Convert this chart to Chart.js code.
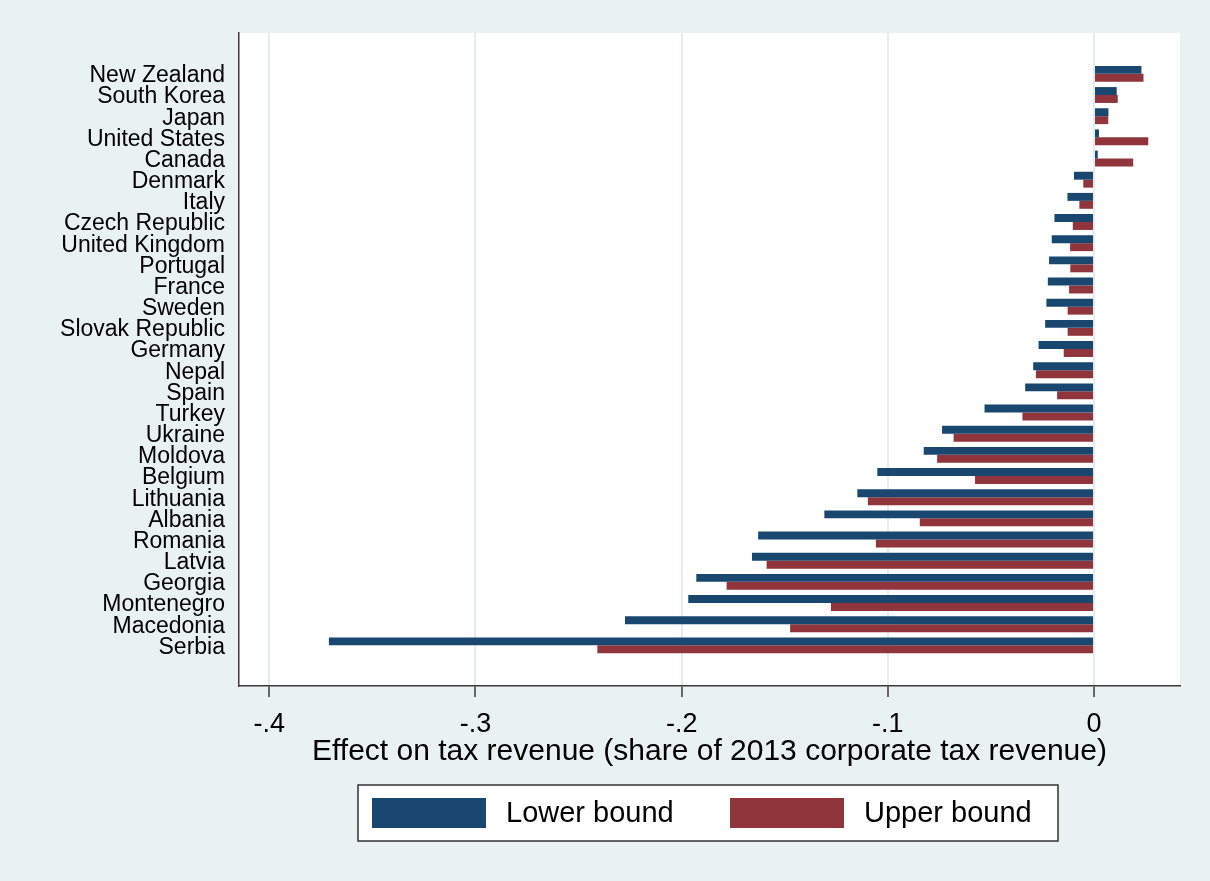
<!DOCTYPE html>
<html>
<head>
<meta charset="utf-8">
<script src="https://cdn.jsdelivr.net/npm/chart.js@4.4.1/dist/chart.umd.min.js"></script>
<style>
  html, body { margin: 0; padding: 0; background: #E9F1F3; }
  #wrap { width: 1210px; height: 881px; }
</style>
</head>
<body>
<div id="wrap"><canvas id="chart" width="1210" height="881"></canvas></div>
<script>
const countries = ['New Zealand', 'South Korea', 'Japan', 'United States', 'Canada', 'Denmark', 'Italy',
  'Czech Republic', 'United Kingdom', 'Portugal', 'France', 'Sweden', 'Slovak Republic', 'Germany',
  'Nepal', 'Spain', 'Turkey', 'Ukraine', 'Moldova', 'Belgium', 'Lithuania', 'Albania', 'Romania',
  'Latvia', 'Georgia', 'Montenegro', 'Macedonia', 'Serbia'];

const lowerBound = [0.023, 0.011, 0.007, 0.0024, 0.0018, -0.0097, -0.0129, -0.0192, -0.0205, -0.0218,
  -0.0224, -0.0231, -0.0237, -0.0269, -0.0295, -0.0334, -0.0531, -0.0737, -0.0826, -0.1051,
  -0.1148, -0.1308, -0.1629, -0.1659, -0.1929, -0.1968, -0.2275, -0.3711];

const upperBound = [0.024, 0.0115, 0.0069, 0.0263, 0.019, -0.0052, -0.0071, -0.0103, -0.0116, -0.0115,
  -0.0121, -0.0128, -0.0128, -0.0147, -0.0282, -0.0179, -0.0347, -0.0681, -0.0761, -0.0577,
  -0.1097, -0.0845, -0.1058, -0.1588, -0.1782, -0.1276, -0.1474, -0.2409];

const xTicks = [-0.4, -0.3, -0.2, -0.1, 0];
const xTickLabels = ['-.4', '-.3', '-.2', '-.1', '0'];

const NAVY = '#1A476F';
const MAROON = '#90353B';
const FONT = "'Liberation Sans', Arial, sans-serif";

// white plot region on the bluish-gray page
const plotBg = {
  id: 'plotBg',
  beforeDraw(chart) {
    const { ctx, chartArea: a } = chart;
    ctx.save();
    ctx.fillStyle = '#E9F1F3';
    ctx.fillRect(0, 0, chart.width, chart.height);
    ctx.fillStyle = '#FFFFFF';
    ctx.fillRect(a.left, a.top, a.right - a.left, a.bottom - a.top);
    ctx.restore();
  }
};

// boxed legend under the axis title
const boxLegend = {
  id: 'boxLegend',
  afterDraw(chart) {
    const ctx = chart.ctx;
    const ds = chart.data.datasets;
    ctx.save();
    ctx.fillStyle = '#FFFFFF';
    ctx.fillRect(358, 785, 700, 56);
    ctx.strokeStyle = '#333333';
    ctx.lineWidth = 1.5;
    ctx.strokeRect(358, 785, 700, 56);
    const slots = [372, 730];
    ds.forEach((d, i) => {
      ctx.fillStyle = d.backgroundColor;
      ctx.fillRect(slots[i], 798, 114, 30);
      ctx.fillStyle = '#000000';
      ctx.font = '29px ' + FONT;
      ctx.textBaseline = 'middle';
      ctx.textAlign = 'left';
      ctx.fillText(d.label, slots[i] + 134, 814);
    });
    ctx.restore();
  }
};

new Chart(document.getElementById('chart').getContext('2d'), {
  type: 'bar',
  data: {
    datasets: [{
      label: 'Lower bound',
      data: lowerBound.map((v, i) => ({ x: v, y: i })),
      backgroundColor: NAVY
    }, {
      label: 'Upper bound',
      data: upperBound.map((v, i) => ({ x: v, y: i })),
      backgroundColor: MAROON
    }]
  },
  options: {
    indexAxis: 'y',
    responsive: false,
    animation: false,
    categoryPercentage: 0.75,
    barPercentage: 1,
    layout: { padding: { top: 33, right: 30, left: 0, bottom: 0 } },
    plugins: {
      legend: { display: false },
      tooltip: { enabled: false }
    },
    scales: {
      y: {
        type: 'linear',
        reverse: true,
        offset: false,
        min: -1.93,
        max: 28.92,
        afterBuildTicks: s => { s.ticks = countries.map((c, i) => ({ value: i })); },
        afterFit: s => { s.width = 239; },
        grid: { display: false, drawTicks: false, offset: false },
        border: { display: true, color: '#3A3A3A', width: 1.5 },
        ticks: {
          autoSkip: false,
          padding: 14,
          labelOffset: 2,
          color: '#000',
          font: { family: FONT, size: 23 },
          callback: v => countries[v]
        }
      },
      x: {
        type: 'linear',
        min: -0.4147,
        max: 0.0417,
        afterBuildTicks: s => { s.ticks = xTicks.map(v => ({ value: v })); },
        afterFit: s => { s.height = 195; },
        grid: { color: '#E3ECEF', lineWidth: 2, tickLength: 11, tickColor: '#3A3A3A', tickWidth: 1.5 },
        border: { display: true, color: '#3A3A3A', width: 1.5 },
        ticks: {
          padding: 11,
          color: '#000',
          maxRotation: 0,
          font: { family: FONT, size: 27 },
          callback: v => xTickLabels[xTicks.indexOf(v)]
        },
        title: {
          display: true,
          text: 'Effect on tax revenue (share of 2013 corporate tax revenue)',
          color: '#000',
          font: { family: FONT, size: 30 },
          padding: { top: 0, bottom: 111 }
        }
      }
    }
  },
  plugins: [plotBg, boxLegend]
});
</script>
</body>
</html>
